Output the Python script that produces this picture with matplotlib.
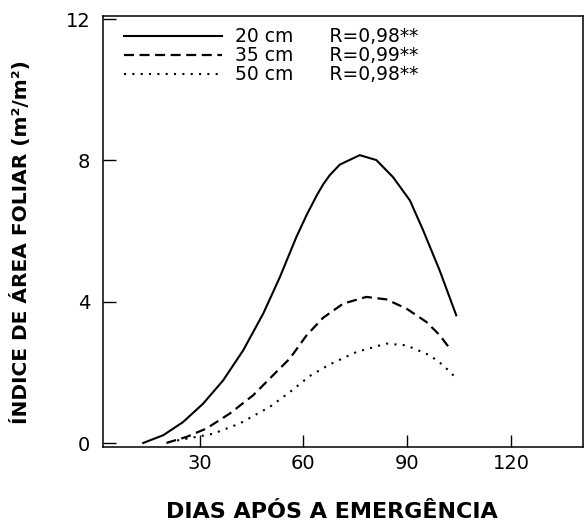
import matplotlib
matplotlib.use("Agg")
import matplotlib.pyplot as plt
from matplotlib.lines import Line2D

plt.rcParams['font.family'] = ['DejaVu Sans']

# leaf area index, days after emergence
days_20 = [13.7, 19.5, 25.2, 31.0, 36.8, 42.6, 48.4, 53.2, 58.0, 60.9, 63.8, 65.7,
           67.6, 70.5, 76.3, 81.1, 85.9, 90.8, 94.6, 99.4, 104.2]
iaf_20 = [0.01, 0.23, 0.60, 1.12, 1.78, 2.63, 3.67, 4.70, 5.84, 6.45, 7.0, 7.32,
          7.58, 7.88, 8.15, 8.01, 7.53, 6.87, 6.03, 4.89, 3.62]

days_35 = [20.4, 26.2, 32.0, 38.7, 45.5, 52.2, 56.1, 60.9, 65.7, 71.5, 78.2, 84.0,
           89.8, 95.6, 99.4, 102.1]
iaf_35 = [0.01, 0.18, 0.42, 0.84, 1.36, 2.02, 2.40, 3.05, 3.55, 3.95, 4.14, 4.07,
          3.81, 3.43, 3.06, 2.71]

days_50 = [23.5, 33.9, 41.6, 50.3, 56.1, 61.8, 67.6, 75.3, 84.0, 89.8, 96.5, 100.4,
           103.8]
iaf_50 = [0.08, 0.27, 0.56, 1.03, 1.45, 1.90, 2.23, 2.58, 2.82, 2.77, 2.49, 2.21,
          1.88]

labels = ["20 cm      R=0,98**", "35 cm      R=0,99**", "50 cm      R=0,98**"]
x_ticks = [30, 60, 90, 120]
y_ticks = [0, 4, 8, 12]

dash = (0, (4.5, 2.5))
dot = (0, (1, 3))

fig = plt.figure(figsize=(5.84, 5.22), dpi=100)
ax = fig.add_axes([0.176, 0.144, 0.822, 0.825])

ax.plot(days_20, iaf_20, color="black", lw=1.5, ls="-")
ax.plot(days_35, iaf_35, color="black", lw=1.6, ls=dash)
ax.plot(days_50, iaf_50, color="black", lw=1.5, ls=dot)

ax.set_xlim(2, 140.8)
ax.set_ylim(-0.1, 12.08)
ax.set_xticks(x_ticks)
ax.set_yticks(y_ticks)
ax.tick_params(direction="in", length=9, width=1, labelsize=14)
ax.tick_params(axis="y", pad=9)
ax.tick_params(axis="x", pad=5)
for s in ax.spines.values():
    s.set_linewidth(1.1)

ax.set_xlabel("DIAS APÓS A EMERGÊNCIA", fontsize=16, fontweight="bold", va="top")
ax.xaxis.set_label_coords(0.477, -0.128)
ax.set_ylabel("ÍNDICE DE ÁREA FOLIAR (m²/m²)", fontsize=14.5, fontweight="bold")
ax.yaxis.set_label_coords(-0.15, 0.476)

handles = [
    Line2D([], [], color="black", lw=1.5, ls="-"),
    Line2D([], [], color="black", lw=1.6, ls=dash),
    Line2D([], [], color="black", lw=1.5, ls=dot),
]
ax.legend(handles, labels, loc="upper left", bbox_to_anchor=(0.045, 0.974),
          frameon=False, fontsize=13.5, handlelength=5.2, handletextpad=0.7,
          labelspacing=0.0, borderpad=0, borderaxespad=0)

fig.savefig("out.png", dpi=100)
